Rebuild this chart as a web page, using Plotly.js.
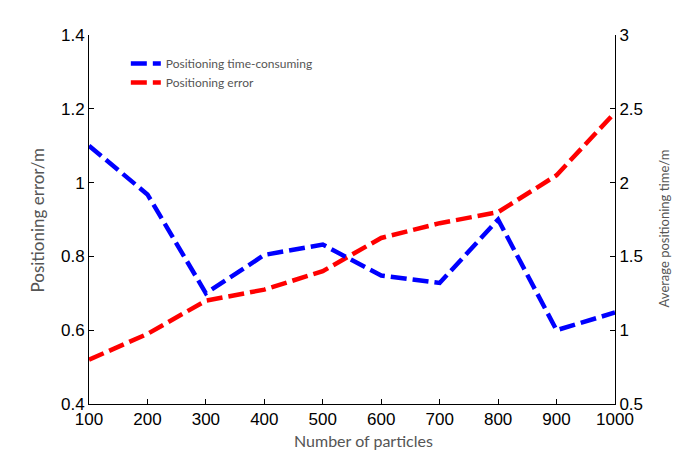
<!DOCTYPE html>
<html>
<head>
<meta charset="utf-8">
<script src="https://cdn.plot.ly/plotly-3.0.1.min.js"></script>
<style>html,body{margin:0;padding:0;background:#fff;}#chart{width:681px;height:455px;}</style>
</head>
<body>
<div id="chart"></div>
<script>
var particles = [100, 200, 300, 400, 500, 600, 700, 800, 900, 1000];
var timeConsuming = [2.25, 1.92, 1.25, 1.51, 1.58, 1.37, 1.32, 1.75, 1.0, 1.12];
var positioningError = [0.52, 0.59, 0.68, 0.71, 0.76, 0.85, 0.89, 0.92, 1.02, 1.19];
var leftTicks = [0.4, 0.6, 0.8, 1, 1.2, 1.4];
var rightTicks = [0.5, 1, 1.5, 2, 2.5, 3];

var tickFont = {family: 'Liberation Sans, Arial, sans-serif', size: 17, color: '#000'};
var titleFont = 'Lato, Noto Sans, sans-serif';

var traces = [
  {x: particles, y: timeConsuming, yaxis: 'y2', type: 'scatter', mode: 'lines',
   name: 'Positioning time-consuming',
   line: {color: '#0000ff', width: 4.5, dash: '16px,6px'}},
  {x: particles, y: positioningError, yaxis: 'y', type: 'scatter', mode: 'lines',
   name: 'Positioning error',
   line: {color: '#ff0000', width: 4.5, dash: '16px,6px'}}
];

var layout = {
  width: 681, height: 455,
  margin: {l: 89, r: 66, t: 35, b: 51},
  paper_bgcolor: '#fff', plot_bgcolor: '#fff',
  showlegend: true,
  legend: {x: 0.07, y: 0.962, xanchor: 'left', yanchor: 'top', bgcolor: 'rgba(0,0,0,0)',
           font: {family: titleFont, size: 12, color: '#555'}, tracegroupgap: 0},
  xaxis: {range: [100, 1000], tickvals: particles, ticks: 'inside', ticklen: 5, tickcolor: '#000',
          showline: true, linecolor: '#000', linewidth: 1, showgrid: false, zeroline: false,
          tickfont: tickFont},
  yaxis: {range: [0.4, 1.4], tickvals: leftTicks, ticktext: leftTicks.map(String), ticks: 'inside', ticklen: 5,
          tickcolor: '#000', showline: true, linecolor: '#000', linewidth: 1, showgrid: false,
          zeroline: false, tickfont: tickFont},
  yaxis2: {range: [0.5, 3], tickvals: rightTicks, ticktext: rightTicks.map(String), overlaying: 'y', side: 'right',
           ticks: 'inside', ticklen: 5, tickcolor: '#000', showline: true, linecolor: '#000',
           linewidth: 1, showgrid: false, zeroline: false, tickfont: tickFont},
  annotations: [
    {text: 'Number of particles', xref: 'paper', yref: 'paper', x: 0.522, y: -0.099,
     xanchor: 'center', yanchor: 'middle', showarrow: false,
     font: {family: titleFont, size: 16, color: '#555'}},
    {text: 'Positioning error/m', xref: 'paper', yref: 'paper', x: -0.097, y: 0.5,
     xanchor: 'center', yanchor: 'middle', textangle: -90, showarrow: false,
     font: {family: titleFont, size: 17, color: '#555'}},
    {text: 'Average positioning time/m', xref: 'paper', yref: 'paper', x: 1.094, y: 0.477,
     xanchor: 'center', yanchor: 'middle', textangle: -90, showarrow: false,
     font: {family: titleFont, size: 13, color: '#555'}}
  ]
};

Plotly.newPlot('chart', traces, layout, {displayModeBar: false, staticPlot: true});
</script>
</body>
</html>
